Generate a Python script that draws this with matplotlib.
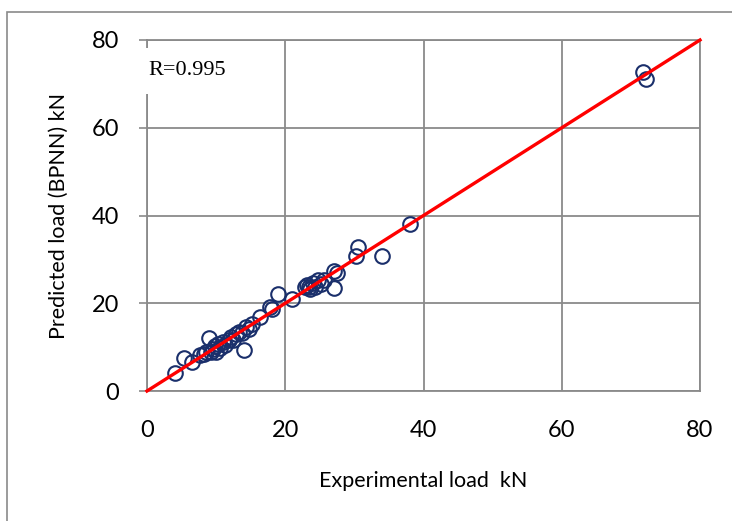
import matplotlib.pyplot as plt
from matplotlib.patches import Rectangle

# experimental vs predicted load (kN)
experimental = [4.0, 5.3, 6.5, 7.6, 8.2, 8.6, 9.0, 9.2, 9.5, 9.8, 10.0, 10.3,
                10.6, 11.0, 11.3, 11.8, 12.2, 12.5, 12.9, 13.3, 13.8, 14.0,
                14.3, 14.8, 15.2, 16.4, 17.8, 18.1, 18.9, 21.0, 22.8, 23.2,
                23.5, 23.6, 24.0, 24.3, 24.8, 25.2, 25.6, 27.0, 27.5, 27.0,
                30.2, 30.5, 34.0, 38.0, 71.8, 72.2]
predicted = [4.2, 7.6, 6.5, 8.2, 8.5, 9.0, 12.0, 8.8, 9.6, 10.2, 8.9, 10.8,
             9.8, 11.2, 10.5, 11.6, 12.3, 11.6, 12.9, 13.5, 13.2, 9.4,
             14.6, 14.2, 15.3, 16.8, 19.2, 18.6, 22.0, 21.0, 23.6, 24.2,
             23.8, 23.2, 24.6, 23.8, 25.2, 24.5, 25.3, 27.3, 27.0, 23.5,
             30.8, 32.9, 30.8, 38.0, 72.6, 71.0]
ideal = [0, 80]
ticks = [0, 20, 40, 60, 80]

plt.rcParams['font.family'] = ['Lato', 'DejaVu Sans']

fig = plt.figure(figsize=(7.32, 5.21), dpi=100)
# outer chart frame (only left and top edges visible)
fig.patches.append(Rectangle((7 / 732, -0.1), 2, 1 - 12 / 521 + 0.1,
                             transform=fig.transFigure, fill=False,
                             edgecolor='#8a8a8a', linewidth=1.2))

ax = fig.add_axes([147 / 732, 1 - 391 / 521, 553 / 732, 351 / 521])
ax.set_xlim(0, 80)
ax.set_ylim(0, 80)
ax.set_xticks(ticks)
ax.set_yticks(ticks)
ax.grid(True, color='#8a8a8a', linewidth=1.3)
ax.set_axisbelow(True)
for s in ax.spines.values():
    s.set_color('#8a8a8a')
    s.set_linewidth(1.3)
ax.tick_params(axis='x', length=0, pad=21, labelsize=17)
ax.tick_params(axis='y', length=6, width=1.2, color='#8a8a8a', pad=14, labelsize=17)

ax.plot(experimental, predicted, 'o', markersize=10.5, markerfacecolor='none',
        markeredgecolor='#1a2f6b', markeredgewidth=1.5, zorder=3)
ax.plot(ideal, ideal, color='#ff0000', linewidth=2.4, zorder=4, clip_on=False)

# white text box of the annotation hides part of the y axis line
ax.add_patch(Rectangle((-0.008, 0.845), 0.17, 0.132, transform=ax.transAxes,
                       facecolor='white', edgecolor='none', zorder=5, clip_on=False))
ax.text(0.2, 73, 'R=0.995', family=['Liberation Serif'], fontsize=16,
        va='center', ha='left', zorder=6)

ax.set_xlabel('Experimental load  kN', fontsize=15.5, va='center')
ax.set_ylabel('Predicted load (BPNN) kN', fontsize=15.5, va='center')
ax.xaxis.set_label_coords(0.499, -0.256)
ax.yaxis.set_label_coords(-0.159, 0.5)

fig.savefig('out.png', dpi=100)
